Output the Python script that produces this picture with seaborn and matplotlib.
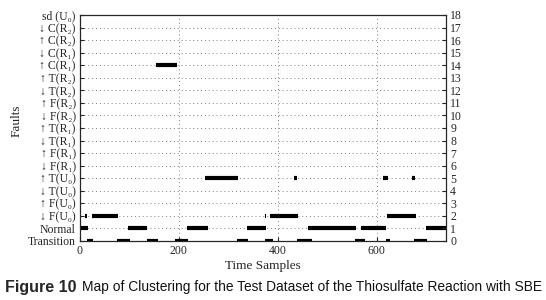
import matplotlib
matplotlib.use("Agg")
import matplotlib.pyplot as plt
import seaborn as sns
import pandas as pd

# Fault labels, level 0 (bottom) to 18 (top)
fault_labels = ["Transition", "Normal", "↓ F(U₀)", "↑ F(U₀)", "↓ T(U₀)", "↑ T(U₀)",
                "↓ F(R₁)", "↑ F(R₁)", "↓ T(R₁)", "↑ T(R₁)",
                "↓ F(R₂)", "↑ F(R₂)", "↓ T(R₂)", "↑ T(R₂)",
                "↑ C(R₁)", "↓ C(R₁)", "↑ C(R₂)", "↓ C(R₂)", "sd (U₀)"]

# Segments per class: (start, end) in time samples
transition_segs = [(14, 26), (75, 101), (135, 158), (192, 218), (317, 339), (374, 390),
                   (438, 468), (555, 576), (618, 626), (675, 701)]
normal_segs = [(0, 16), (97, 135), (216, 258), (337, 377), (460, 558), (568, 618), (700, 740)]
f_u0_down_segs = [(11, 15), (24, 77), (373, 377), (385, 440), (620, 680)]
t_u0_up_segs = [(252, 319), (433, 439), (612, 622), (672, 678)]
c_r1_up_segs = [(153, 196)]

segment_sets = {0: transition_segs, 1: normal_segs, 2: f_u0_down_segs,
                5: t_u0_up_segs, 14: c_r1_up_segs}

rows = []
sid = 0
for level, segs in segment_sets.items():
    for s, e in segs:
        rows.append({"x": s, "y": level, "seg": sid})
        rows.append({"x": e, "y": level, "seg": sid})
        sid += 1
df = pd.DataFrame(rows)

sns.set_style("ticks")
plt.rcParams["font.family"] = ["Liberation Serif", "DejaVu Serif"]

fig = plt.figure(figsize=(5.46, 3.00), dpi=100)
ax = fig.add_axes([0.1465, 0.197, 0.6705, 0.753])

sns.lineplot(data=df, x="x", y="y", units="seg", estimator=None, color="black",
             lw=3.0, solid_capstyle="butt", ax=ax, legend=False)

ax.set_xlim(0, 740)
ax.set_ylim(0, 18)
ax.set_yticks(range(19))
ax.set_yticklabels(fault_labels, fontsize=8.5, family=["Liberation Serif", "DejaVu Serif"])
ax.set_xticks([0, 200, 400, 600])
ax.set_xticklabels(["0", "200", "400", "600"], fontsize=8.5)
ax.tick_params(axis="both", direction="in", length=3, width=0.8, pad=3)
ax.grid(True, linestyle=(0, (1, 3)), color="gray", linewidth=0.7)
for sp in ax.spines.values():
    sp.set_linewidth(0.8)
    sp.set_color("black")

ax.set_xlabel("Time Samples", fontsize=9.5, labelpad=2)
ax.set_ylabel("Faults", fontsize=9.5)
ax.yaxis.set_label_coords(-0.158, 0.53)

ax2 = ax.twinx()
ax2.set_ylim(0, 18)
ax2.set_yticks(range(19))
ax2.set_yticklabels([str(i) for i in range(19)], fontsize=8.5)
ax2.tick_params(axis="y", direction="in", length=3, width=0.8, pad=3)
ax2.grid(False)

fig.text(0.009, 0.043, "Figure 10", fontsize=11.5, fontweight="bold",
         family="Liberation Sans", ha="left", va="center")
fig.text(0.150, 0.043, "Map of Clustering for the Test Dataset of the Thiosulfate Reaction with SBE",
         fontsize=9.9, family="Liberation Sans", ha="left", va="center", color="#111111")

fig.savefig("out.png", dpi=100)
